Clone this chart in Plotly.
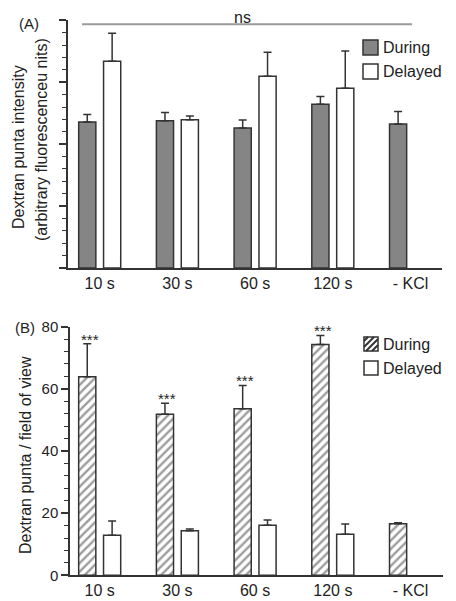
import plotly.graph_objects as go

categories = ["10 s", "30 s", "60 s", "120 s", "- KCl"]

# Panel A: dextran punta intensity (arbitrary units, axis 0-100 unlabelled)
a_during = [58.9, 59.4, 56.5, 66.1, 58.1]
a_during_err = [3.1, 3.4, 3.3, 3.1, 5.1]
a_delayed = [83.5, 59.9, 77.4, 72.6, None]
a_delayed_err = [11.3, 1.5, 9.7, 15.0, None]

# Panel B: dextran punta per field of view
b_during = [63.9, 51.8, 53.6, 74.3, 16.6]
b_during_err = [10.6, 3.6, 7.5, 2.9, 0.3]
b_delayed = [12.9, 14.3, 16.1, 13.2, None]
b_delayed_err = [4.6, 0.6, 1.7, 3.3, None]
b_sig = ["***", "***", "***", "***", ""]

b_ticks = [0, 20, 40, 60, 80]

FONT = "Liberation Sans, Arial, sans-serif"
TXT = "#222222"
AX = "#333333"
OFF = 8  # page body margin
W, H = 456 - OFF, 601 - OFF


def px(x):
    return (x - OFF) / W


def py(y):
    return 1 - (y - OFF) / H


def zeros(v):
    return [0 if e is not None else None for e in v]


err_style = dict(type="data", symmetric=False, color=AX, thickness=1.5, width=4)

fig = go.Figure()

# Panel A bars
fig.add_trace(go.Bar(
    x=categories, y=a_during, name="During", xaxis="x", yaxis="y",
    marker=dict(color="#858585", line=dict(color=AX, width=1.5)),
    error_y=dict(array=a_during_err, arrayminus=zeros(a_during_err), **err_style),
    showlegend=False))
fig.add_trace(go.Bar(
    x=categories, y=a_delayed, name="Delayed", xaxis="x", yaxis="y",
    marker=dict(color="white", line=dict(color=AX, width=1.5)),
    error_y=dict(array=a_delayed_err, arrayminus=zeros(a_delayed_err), **err_style),
    showlegend=False))

# Panel B bars
fig.add_trace(go.Bar(
    x=categories, y=b_during, name="During", xaxis="x2", yaxis="y2",
    marker=dict(color="white", line=dict(color=AX, width=1.5),
                pattern=dict(shape="/", fgcolor="#3a3a3a", bgcolor="white",
                             size=6, solidity=0.4)),
    error_y=dict(array=b_during_err, arrayminus=zeros(b_during_err), **err_style),
    showlegend=False))
fig.add_trace(go.Bar(
    x=categories, y=b_delayed, name="Delayed", xaxis="x2", yaxis="y2",
    marker=dict(color="white", line=dict(color=AX, width=1.5)),
    error_y=dict(array=b_delayed_err, arrayminus=zeros(b_delayed_err), **err_style),
    showlegend=False))

annotations = []
shapes = []


def ptext(x, y, t, size=16, angle=0, xanchor="center"):
    annotations.append(dict(x=px(x), y=py(y), xref="paper", yref="paper", text=t,
                            textangle=angle, xanchor=xanchor, yanchor="middle",
                            showarrow=False,
                            font=dict(size=size, color=TXT, family=FONT)))


# significance stars in B
for i, (v, e, s) in enumerate(zip(b_during, b_during_err, b_sig)):
    if s:
        annotations.append(dict(x=i - 0.13, y=v + e, xref="x2", yref="y2", text=s,
                                showarrow=False, xanchor="center", yanchor="bottom",
                                yshift=-6,
                                font=dict(size=15, color=TXT, family=FONT)))

# ns line in A
shapes.append(dict(type="line", xref="x", yref="y", x0=-0.228, x1=4.02, y0=98.4, y1=98.4,
                   line=dict(color="#9a9a9a", width=2)))
ptext(242, 17.5, "ns")

# panel labels
ptext(29, 24, "(A)", size=15)
ptext(25, 327, "(B)", size=15)

# y titles
ptext(18, 147, "Dextran punta intensity", angle=-90)
ptext(41, 140, "(arbitrary fluorescenceu nits)", angle=-90)
ptext(25, 455, "Dextran punta / field of view", angle=-90)


# manual legends
def legend_box(x0, y0, x1, y1, fill, hatch=False):
    shapes.append(dict(type="rect", xref="paper", yref="paper",
                       x0=px(x0), x1=px(x1), y0=py(y1), y1=py(y0),
                       fillcolor=fill, line=dict(color=AX, width=1.5)))
    if hatch:
        c = x0 + y0 + 4
        while c < x1 + y1:
            xa = max(x0, c - y1)
            xb = min(x1, c - y0)
            shapes.append(dict(type="line", xref="paper", yref="paper",
                               x0=px(xa), y0=py(c - xa), x1=px(xb), y1=py(c - xb),
                               line=dict(color="#333333", width=2)))
            c += 6


legend_box(363, 40, 378, 55, "#858585")
legend_box(363, 64, 378, 79, "white")
ptext(381, 47.5, "During", xanchor="left")
ptext(381, 71.5, "Delayed", xanchor="left")

legend_box(364, 337, 378, 351, "white", hatch=True)
legend_box(364, 361, 378, 375, "white")
ptext(381, 344, "During", xanchor="left")
ptext(381, 368, "Delayed", xanchor="left")

xcommon = dict(type="category", showline=True, linecolor=AX, linewidth=1.5,
               ticks="", showgrid=False, zeroline=False, automargin=False,
               tickfont=dict(size=16, color=TXT, family=FONT))
ycommon = dict(showline=True, linecolor=AX, linewidth=1.5, showgrid=False,
               zeroline=False, ticks="outside", ticklen=7, tickwidth=1.5, tickcolor=AX,
               automargin=False,
               tickfont=dict(size=15, color=TXT, family=FONT))

fig.update_layout(
    width=W, height=H, margin=dict(l=0, r=0, t=0, b=0, autoexpand=False),
    paper_bgcolor="white", plot_bgcolor="white",
    barmode="group", bargap=0.36, bargroupgap=0.31,
    showlegend=False,
    xaxis=dict(domain=[px(68), px(442)], anchor="y", range=[-0.408, 4.405], **xcommon),
    yaxis=dict(domain=[py(268), py(20.3)], anchor="x", range=[0, 100], dtick=25,
               showticklabels=False,
               minor=dict(dtick=5, ticks="outside", ticklen=4, tickwidth=1.2, tickcolor=AX),
               **ycommon),
    xaxis2=dict(domain=[px(70), px(443)], anchor="y2", range=[-0.382, 4.418], **xcommon),
    yaxis2=dict(domain=[py(575.3), py(326.7)], anchor="x2", range=[0, 80],
                tickvals=b_ticks, ticktext=[str(t) for t in b_ticks],
                minor=dict(dtick=4, ticks="outside", ticklen=4, tickwidth=1.2, tickcolor=AX),
                **ycommon),
    annotations=annotations, shapes=shapes,
)

fig.write_html("out.html")
